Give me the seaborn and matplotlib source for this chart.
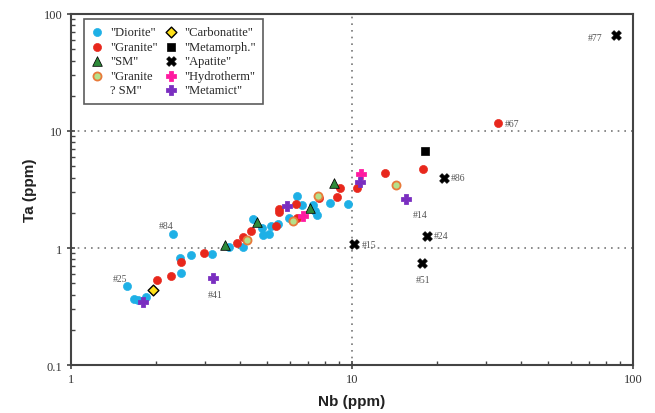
import matplotlib
matplotlib.use("Agg")
import matplotlib.pyplot as plt
from matplotlib.ticker import FuncFormatter, LogLocator, NullFormatter
from matplotlib.lines import Line2D
import seaborn as sns
import pandas as pd

# ---- data (Nb, Ta in ppm) ----
diorite_nb = [2.31, 3.66, 3.17, 2.67, 2.44, 2.46, 1.58, 1.67, 1.73, 1.85, 4.08, 4.45, 4.77, 4.81,
              5.08, 5.15, 5.44, 6.36, 6.62, 5.98, 7.28, 7.38, 7.53, 8.35, 9.70]
diorite_ta = [1.32, 1.03, 0.89, 0.88, 0.82, 0.61, 0.47, 0.366, 0.36, 0.38, 1.03, 1.76, 1.47, 1.29,
              1.32, 1.53, 1.60, 2.77, 2.34, 1.80, 2.34, 2.08, 1.93, 2.43, 2.38]
granite_nb = [3.89, 2.98, 2.46, 2.27, 2.03, 4.10, 4.36, 5.37, 5.50, 5.50, 6.31, 6.39, 7.65, 8.83,
              9.06, 10.4, 13.1, 17.9, 33.0]
granite_ta = [1.10, 0.90, 0.755, 0.58, 0.535, 1.25, 1.41, 1.55, 2.15, 2.02, 2.38, 1.80, 2.67, 2.74,
              3.24, 3.24, 4.38, 4.73, 11.7]
sm_nb = [3.53, 4.58, 7.08, 8.63]
sm_ta = [1.06, 1.68, 2.20, 3.60]
gsm_nb = [4.22, 6.15, 7.55, 14.3]
gsm_ta = [1.17, 1.71, 2.80, 3.45]
carb_nb = [1.96]
carb_ta = [0.44]
meta_nb = [18.2]
meta_ta = [6.79]
apatite_nb = [10.2, 21.3, 18.5, 17.7, 86.7]
apatite_ta = [1.08, 3.97, 1.27, 0.74, 66.5]
hydro_nb = [6.68, 10.8]
hydro_ta = [1.87, 4.29]
metamict_nb = [1.80, 3.21, 5.88, 10.7, 15.6]
metamict_ta = [0.347, 0.555, 2.27, 3.69, 2.62]

group_names = ['"Diorite"', '"Granite"', '"SM"', '"Granite', '"Carbonatite"',
               '"Metamorph."', '"Apatite"', '"Hydrotherm"', '"Metamict"']
gsm_second_line = '? SM"'

# sample labels
label_text = ["#84", "#25", "#41", "#15", "#14", "#24", "#51", "#86", "#67", "#77"]
label_nb = [2.31, 1.58, 3.21, 10.2, 15.6, 18.5, 17.7, 21.3, 33.0, 86.7]
label_ta = [1.32, 0.47, 0.555, 1.08, 2.62, 1.27, 0.74, 3.97, 11.7, 66.5]
label_off = [(-10, 6), (-10, 6), (-4, -12), (5, 0), (5, -11), (5, 0), (-4, -12), (5, 0), (5, 0), (-20, -2)]

# ---- styles ----
styles = [
    dict(marker="o", color="#1eb0e6", edgecolor="#1eb0e6", s=34),
    dict(marker="o", color="#e8271c", edgecolor="#e8271c", s=34),
    dict(marker="^", color="#2e8b3a", edgecolor="black", s=48),
    dict(marker="o", color="#b5e08a", edgecolor="#e87a3a", s=34, linewidth=1.3),
    dict(marker="D", color="#ffe11a", edgecolor="black", s=30, linewidth=1.0),
    dict(marker="s", color="black", edgecolor="black", s=38),
    dict(marker="X", color="black", edgecolor="black", s=48),
    dict(marker="P", color="#ff1aa0", edgecolor="#ff1aa0", s=48),
    dict(marker="P", color="#7a2ec0", edgecolor="#7a2ec0", s=48),
]
data = [(diorite_nb, diorite_ta), (granite_nb, granite_ta), (sm_nb, sm_ta), (gsm_nb, gsm_ta),
        (carb_nb, carb_ta), (meta_nb, meta_ta), (apatite_nb, apatite_ta),
        (hydro_nb, hydro_ta), (metamict_nb, metamict_ta)]

sns.set_theme(style="white")
plt.rcParams["font.family"] = ["Liberation Serif", "DejaVu Serif"]

fig = plt.figure(figsize=(6.55, 4.14), dpi=100)
ax = fig.add_axes([0.1084, 0.1159, 0.8580, 0.8479])
ax.set_xscale("log")
ax.set_yscale("log")
ax.set_xlim(1, 100)
ax.set_ylim(0.1, 100)

ax.grid(True, which="major", linestyle=(0, (1, 3)), color="#777777", linewidth=1.2)
ax.set_axisbelow(True)

for name, (nb, ta), st in zip(group_names, data, styles):
    df = pd.DataFrame({"Nb": nb, "Ta": ta})
    sns.scatterplot(data=df, x="Nb", y="Ta", ax=ax, label=name, zorder=3, **st)

for t, x, y, off in zip(label_text, label_nb, label_ta, label_off):
    ax.annotate(t, (x, y), xytext=off, textcoords="offset points", fontsize=7,
                color="#555555", va="center", ha="left")

for sp in ax.spines.values():
    sp.set_color("#444444")
    sp.set_linewidth(1.5)

ax.xaxis.set_major_locator(LogLocator(base=10, numticks=5))
ax.yaxis.set_major_locator(LogLocator(base=10, numticks=6))
ax.xaxis.set_minor_locator(LogLocator(base=10, subs=range(2, 10), numticks=20))
ax.yaxis.set_minor_locator(LogLocator(base=10, subs=range(2, 10), numticks=20))
ax.xaxis.set_minor_formatter(NullFormatter())
ax.yaxis.set_minor_formatter(NullFormatter())
fmt = FuncFormatter(lambda v, p: f"{v:g}")
ax.xaxis.set_major_formatter(fmt)
ax.yaxis.set_major_formatter(fmt)
ax.tick_params(which="major", direction="inout", length=6, width=1.2, color="#444444",
               labelsize=9, labelcolor="#333333", bottom=True, left=True, pad=3)
ax.tick_params(which="minor", direction="in", length=3, width=1.0, color="#444444",
               bottom=True, left=True)

ax.set_xlabel("Nb (ppm)", fontsize=11, fontweight="bold", family="Liberation Sans", color="#222222", labelpad=6)
ax.set_ylabel("Ta (ppm)", fontsize=11, fontweight="bold", family="Liberation Sans", color="#222222", labelpad=5)

handles, labels = ax.get_legend_handles_labels()
blank = Line2D([], [], linestyle="none", marker=None)
handles = handles[:4] + [blank] + handles[4:]
labels = labels[:4] + [gsm_second_line] + labels[4:]
leg = ax.legend(handles, labels, loc="upper left", bbox_to_anchor=(0.023, 0.986), ncol=2,
                frameon=True, fancybox=False, edgecolor="#333333", fontsize=9,
                handletextpad=0.64, columnspacing=0.64, labelspacing=0.2, borderpad=0.6,
                handlelength=0.85, borderaxespad=0)
leg.get_frame().set_linewidth(1.2)

fig.savefig("out.png", dpi=100)
